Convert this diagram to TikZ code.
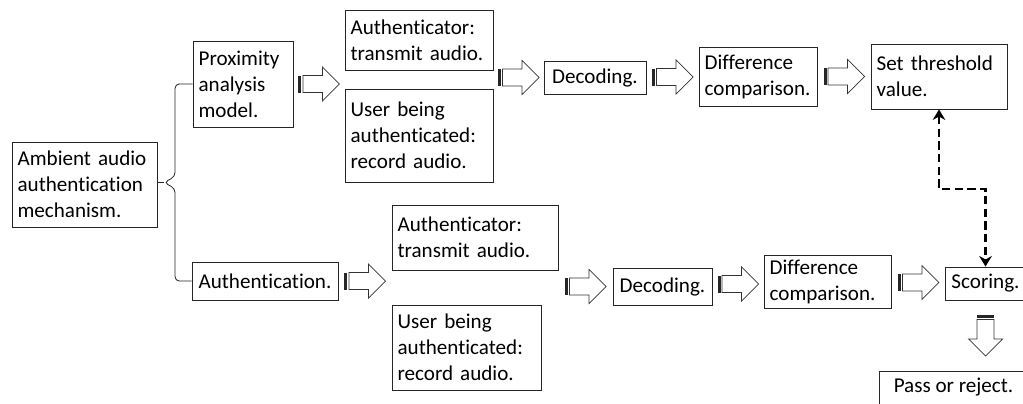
\documentclass[tikz,border=0pt]{standalone}
\usepackage{fontspec}
\setmainfont{Carlito}[Ligatures=NoCommon]
\usetikzlibrary{calc,arrows.meta}

% striped block arrow, drawn pointing right around its centre
\tikzset{pics/fatarr/.style={code={
  \fill[black!85] (-20.5,-8.5) rectangle (-17.5,8.5);
  \draw[draw=black!80, line width=0.5pt, fill=white] (-16,-8.5) -- (3.5,-8.5) -- (3.5,-17) -- (20.5,0)
    -- (3.5,17) -- (3.5,8.5) -- (-16,8.5) -- cycle;
}}}

\begin{document}
\begin{tikzpicture}[x=0.025cm, y=-0.025cm,
  box/.style={draw=black!85, line width=0.6pt, align=left, inner xsep=4pt, inner ysep=0pt,
    font=\fontsize{15}{18.5}\selectfont},
  dashlink/.style={line width=1.6pt, dash pattern=on 6pt off 3pt, {Stealth[length=7.5pt,width=9pt]}-{Stealth[length=7.5pt,width=9pt]}}]
\useasboundingbox (0,0) rectangle (1023,403);
\clip (0,0) rectangle (1023,403);

\node[box, text width=95.1pt, minimum height=2.125cm] (amb) at (84.5,184.5) {Ambient audio\\authentication\\mechanism.};
\node[box, text width=63.1pt, minimum height=2.15cm] (prox) at (243,84) {Proximity\\analysis\\model.};
\node[box, minimum width=3.65cm, minimum height=0.95cm] (auth) at (265,281) {Authentication.};

% upper branch
\node[box, text width=97.3pt, minimum height=1.5cm] (tx1) at (419,40) {Authenticator:\\transmit audio.};
\node[box, text width=97.3pt, minimum height=2.325cm] (rec1) at (419,135.5) {User being\\authenticated:\\record audio.};
\node[box, minimum width=2.55cm, minimum height=0.825cm] (dec1) at (595,77.5) {Decoding.};
\node[box, text width=75.9pt, minimum height=1.475cm] (dif1) at (758,76.5) {Difference\\comparison.};
\node[box, text width=88.7pt, minimum height=1.625cm] (thr) at (939,76.5) {Set threshold\\value.};

% lower branch
\node[box, text width=110.1pt, minimum height=1.625cm] (tx2) at (475,237.5) {Authenticator:\\transmit audio.};
\node[box, text width=98pt, minimum height=2.125cm] (rec2) at (466.5,347.5) {User being\\authenticated:\\record audio.};
\node[box, minimum width=2.475cm, minimum height=0.925cm] (dec2) at (662.5,286.5) {Decoding.};
\node[box, text width=82.3pt, minimum height=1.325cm] (dif2) at (827.5,281.5) {Difference\\comparison.};
\node[box, minimum width=1.825cm, minimum height=0.825cm] (sco) at (985.5,283.5) {Scoring.};
\node[box, minimum width=3.725cm, minimum height=0.825cm] (pas) at (953.5,387.5) {Pass or reject.};

% brace
\coordinate (tip) at ($(prox.west)!.5!(auth.west)+(-28,0)$);
\draw[black!85, line width=0.6pt, rounded corners=3pt] (prox.west) -- ($(prox.west -| tip)+(11,0)$)
  -- ($(tip)+(11,-6)$) -- (tip) -- ($(tip)+(11,6)$) -- ($(auth.west -| tip)+(11,0)$) -- (auth.west);
\draw[black!85, line width=0.6pt] (amb.east |- tip) -- (tip);

% block arrows
\pic at ($(prox.east)!.5!(tx1.west |- prox.east)$) {fatarr};
\pic at ($(rec1.east |- dec1.west)!.5!(dec1.west)$) {fatarr};
\pic at ($(dec1.east)!.5!(dif1.west)$) {fatarr};
\pic at ($(dif1.east)!.5!(thr.west)$) {fatarr};
\pic at ($(auth.east)!.5!(tx2.west |- auth.east)$) {fatarr};
\pic at ($(tx2.east |- dec2.west)!.5!(dec2.west)$) {fatarr};
\pic at ($(dec2.east)!.5!(dif2.west)$) {fatarr};
\pic at ($(dif2.east)!.5!(sco.west)$) {fatarr};
\pic[rotate=-90] at ($(sco.south)!.5!(sco.south |- pas.north)$) {fatarr};

% threshold link
\coordinate (bend) at (960,189);
\draw[dashlink] (thr.south) |- (bend) -| (sco.north);
\end{tikzpicture}
\end{document}
